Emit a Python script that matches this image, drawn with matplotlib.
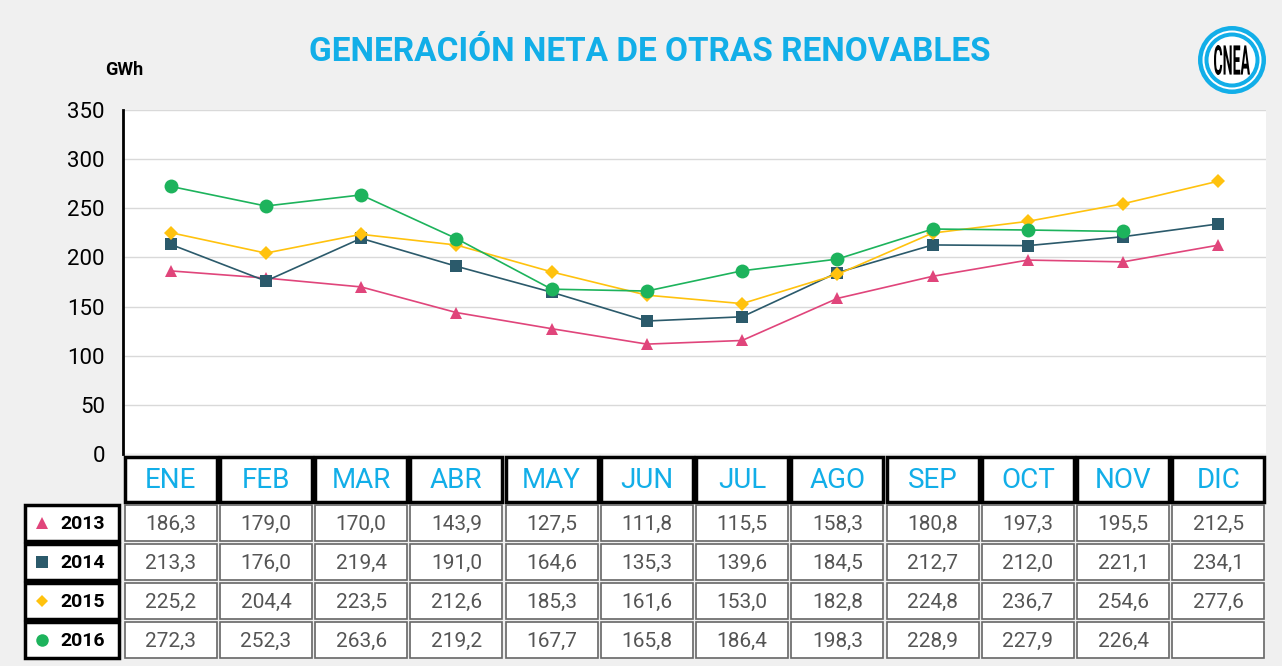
import numpy as np
import matplotlib.pyplot as plt
from matplotlib.patches import Rectangle, Circle, PathPatch
from matplotlib.textpath import TextPath
from matplotlib.font_manager import FontProperties
from matplotlib.transforms import Affine2D

# Datos (GWh)
meses = ["ENE", "FEB", "MAR", "ABR", "MAY", "JUN", "JUL", "AGO", "SEP", "OCT", "NOV", "DIC"]
anios = ["2013", "2014", "2015", "2016"]
v2013 = [186.3, 179.0, 170.0, 143.9, 127.5, 111.8, 115.5, 158.3, 180.8, 197.3, 195.5, 212.5]
v2014 = [213.3, 176.0, 219.4, 191.0, 164.6, 135.3, 139.6, 184.5, 212.7, 212.0, 221.1, 234.1]
v2015 = [225.2, 204.4, 223.5, 212.6, 185.3, 161.6, 153.0, 182.8, 224.8, 236.7, 254.6, 277.6]
v2016 = [272.3, 252.3, 263.6, 219.2, 167.7, 165.8, 186.4, 198.3, 228.9, 227.9, 226.4, np.nan]

series = [v2013, v2014, v2015, v2016]
colores = ["#e0457b", "#2b5a6b", "#ffc20e", "#1db35c"]
marcadores = ["^", "s", "D", "o"]
tam_marc = [9, 9, 7, 10]

AZUL = "#12aee8"
FONDO = "#f0f0f0"

W, H = 1282, 666
fig = plt.figure(figsize=(W / 100, H / 100), dpi=100, facecolor=FONDO)

# geometria en pixeles
x_izq, x_der = 123, 1266
y_top, y_base = 110, 454
col_w = (x_der - x_izq) / 12

ax = fig.add_axes([x_izq / W, 1 - y_base / H, (x_der - x_izq) / W, (y_base - y_top) / H])
ax.set_facecolor("white")
x = np.arange(len(meses))
for vals, c, m, ms in zip(series, colores, marcadores, tam_marc):
    ax.plot(x, vals, color=c, linewidth=1.2, marker=m, markersize=ms,
            markeredgewidth=0, zorder=3)
ax.set_xlim(-0.5, 11.5)
ax.set_ylim(0, 350)
ax.set_yticks(np.arange(0, 351, 50))
ax.set_xticks([])
ax.grid(axis="y", color="#d9d9d9", linewidth=1)
ax.set_axisbelow(True)
for s in ["top", "right", "bottom"]:
    ax.spines[s].set_visible(False)
ax.spines["left"].set_linewidth(2)
ax.tick_params(axis="y", length=0, pad=13, labelsize=16)
for lab in ax.get_yticklabels():
    lab.set_family("Roboto")

# capa superior en pixeles para tabla, titulo y logo
ov = fig.add_axes([0, 0, 1, 1], facecolor="none")
ov.set_xlim(0, W)
ov.set_ylim(H, 0)
ov.axis("off")

ov.text(650, 52, "GENERACIÓN NETA DE OTRAS RENOVABLES", color=AZUL,
        fontsize=24, fontweight="bold", family="Roboto",
        ha="center", va="center")
ov.text(124, 70, "GWh", fontsize=13, fontweight="bold", ha="center", va="center",
        family="Roboto")

# logo CNEA
cx, cy = 1232, 60
ov.add_patch(Circle((cx, cy), 34, color=AZUL, lw=0))
ov.add_patch(Circle((cx, cy), 29.5, color="white", lw=0))
ov.add_patch(Circle((cx, cy), 27.5, color=AZUL, lw=0))
ov.add_patch(Circle((cx, cy), 23.5, color="white", lw=0))
tp = TextPath((0, 0), "CNEA", size=10, prop=FontProperties(family="Roboto", weight="bold"))
bb = tp.get_extents()
sx = 36 / bb.width
sy = 30 / bb.height
tr = Affine2D().translate(-bb.x0 - bb.width / 2, -bb.y0 - bb.height / 2).scale(sx, -sy).translate(cx, cy)
ov.add_patch(PathPatch(tr.transform_path(tp), facecolor="black", lw=0))

# cabecera de meses
hdr_top, hdr_bot = 457, 502
gap = 1.6
for i, mes in enumerate(meses):
    x0 = x_izq + i * col_w + gap
    ov.add_patch(Rectangle((x0, hdr_top), col_w - 2 * gap, hdr_bot - hdr_top,
                           facecolor="white", edgecolor="black", lw=2.5))
    ov.text(x0 + col_w / 2 - gap, (hdr_top + hdr_bot) / 2 + 1, mes, color=AZUL,
            fontsize=20, family="Roboto", ha="center", va="center")

# filas de datos
filas_top = [505, 544, 583, 622]
alto = 36
for r, (anio, vals, c, m) in enumerate(zip(anios, series, colores, marcadores)):
    y0 = filas_top[r]
    ov.add_patch(Rectangle((25, y0), 94, alto, facecolor="white",
                           edgecolor="black", lw=2.5))
    ov.plot(42, y0 + alto / 2, marker=m, color=c, markersize=tam_marc[r] - 1,
            markeredgewidth=0)
    ov.text(83, y0 + alto / 2 + 1, anio, fontsize=14, fontweight="bold",
            family="Roboto", ha="center", va="center")
    for i, v in enumerate(vals):
        x0 = x_izq + i * col_w + gap
        ov.add_patch(Rectangle((x0, y0), col_w - 2 * gap, alto, facecolor="white",
                               edgecolor="#666666", lw=1.2))
        if not np.isnan(v):
            ov.text(x0 + col_w / 2 - gap, y0 + alto / 2 + 1,
                    f"{v:.1f}".replace(".", ","), fontsize=15, color="#555555",
                    family="Roboto", ha="center", va="center")

fig.savefig("out.png", dpi=100, facecolor=FONDO)
